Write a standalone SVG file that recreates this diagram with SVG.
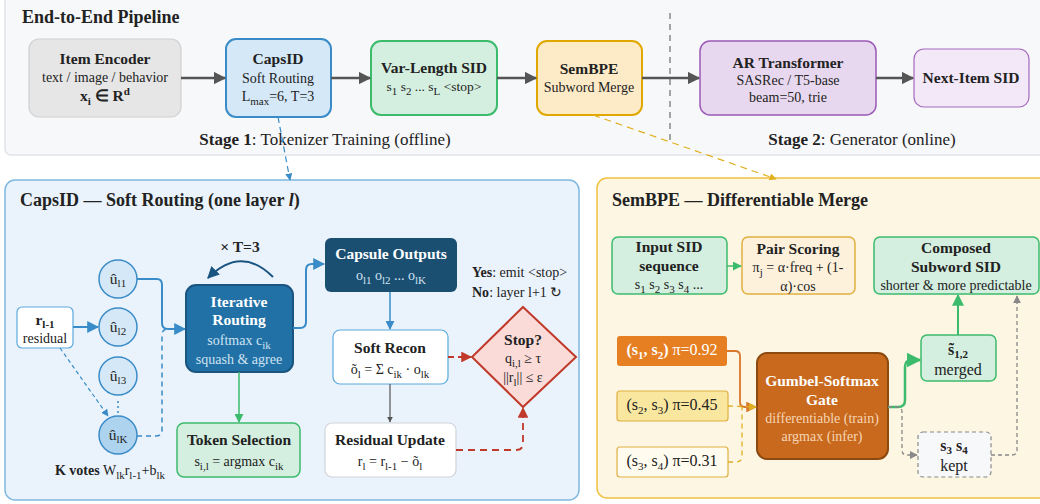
<svg xmlns="http://www.w3.org/2000/svg" width="1040" height="504" viewBox="0 0 1040 504">
<style>
text{font-family:"Liberation Serif","Times New Roman",serif;fill:#222;}
.b{font-weight:bold;}
.t15{font-size:15.5px;}
.t13{font-size:14px;}
.t12{font-size:13.5px;}
.w{fill:#fff;}
.lb{fill:#cfe3f3;}
.lo{fill:#f6d5b5;}
.s{font-size:11px;}
.c{text-anchor:middle;}
</style>
<defs>
<marker id="mg" viewBox="0 0 10 10" refX="9" refY="5" markerWidth="5" markerHeight="5" orient="auto"><path d="M0,0L10,5L0,10z" fill="#555"/></marker>
<marker id="mb" viewBox="0 0 10 10" refX="9" refY="5" markerWidth="6" markerHeight="6" orient="auto"><path d="M0,0L10,5L0,10z" fill="#3a8cc8"/></marker>
<marker id="mdb" viewBox="0 0 10 10" refX="9" refY="5" markerWidth="6" markerHeight="6" orient="auto"><path d="M0,0L10,5L0,10z" fill="#1a5480"/></marker>
<marker id="mgr" viewBox="0 0 10 10" refX="9" refY="5" markerWidth="6" markerHeight="6" orient="auto"><path d="M0,0L10,5L0,10z" fill="#3dbb6c"/></marker>
<marker id="mr" viewBox="0 0 10 10" refX="9" refY="5" markerWidth="6" markerHeight="6" orient="auto"><path d="M0,0L10,5L0,10z" fill="#c0392b"/></marker>
<marker id="mo" viewBox="0 0 10 10" refX="9" refY="5" markerWidth="6" markerHeight="6" orient="auto"><path d="M0,0L10,5L0,10z" fill="#d9782d"/></marker>
<marker id="my" viewBox="0 0 10 10" refX="9" refY="5" markerWidth="6" markerHeight="6" orient="auto"><path d="M0,0L10,5L0,10z" fill="#e0b020"/></marker>
<marker id="mgy" viewBox="0 0 10 10" refX="9" refY="5" markerWidth="6" markerHeight="6" orient="auto"><path d="M0,0L10,5L0,10z" fill="#888"/></marker>
</defs>

<!-- panels -->
<rect x="5" y="-6" width="1045" height="161" rx="6" fill="#f7f8fa" stroke="#e2e4e8" stroke-width="1.5"/>
<text x="22" y="23" class="b" font-size="18">End-to-End Pipeline</text>
<line x1="670" y1="13" x2="670" y2="140" stroke="#888" stroke-width="1.5" stroke-dasharray="6,5"/>
<text x="325" y="145" class="c" font-size="17"><tspan class="b">Stage 1</tspan>: Tokenizer Training (offline)</text>
<text x="862" y="145" class="c" font-size="17"><tspan class="b">Stage 2</tspan>: Generator (online)</text>

<rect x="5" y="180" width="574" height="320" rx="10" fill="#eaf3fb" stroke="#7fb8e0" stroke-width="1.5"/>
<text x="20" y="206" class="b" font-size="18">CapsID — Soft Routing (one layer <tspan font-style="italic">l</tspan>)</text>

<rect x="597" y="178" width="460" height="320" rx="10" fill="#fdf6e3" stroke="#f0c040" stroke-width="1.5"/>
<text x="612" y="206" class="b" font-size="18">SemBPE — Differentiable Merge</text>

<!-- top nodes -->
<g id="item-encoder">
<rect x="29" y="39" width="152" height="78" rx="10" fill="#e6e6e6" stroke="#d0d0d0" stroke-width="1.2"/>
<text x="105" y="64" class="c b t15">Item Encoder</text>
<text x="105" y="82" class="c t13">text / image / behavior</text>
<text x="105" y="101" class="c b t15">x<tspan class="s" baseline-shift="-4">i</tspan> ∈ R<tspan class="s" baseline-shift="6">d</tspan></text>
</g>
<g id="capsid">
<rect x="226" y="39" width="105" height="78" rx="10" fill="#d5e8f7" stroke="#3a8cc8" stroke-width="2"/>
<text x="278" y="64" class="c b t15">CapsID</text>
<text x="278" y="83" class="c t13">Soft Routing</text>
<text x="278" y="101" class="c t13">L<tspan class="s" baseline-shift="-4">max</tspan>=6, T=3</text>
</g>
<g id="varlen">
<rect x="371" y="41" width="126" height="74" rx="10" fill="#d4efdf" stroke="#3dbb6c" stroke-width="2"/>
<text x="434" y="73" class="c b t15">Var-Length SID</text>
<text x="434" y="91" class="c t12">s<tspan class="s" baseline-shift="-3.5">1</tspan> s<tspan class="s" baseline-shift="-3.5">2</tspan> ... s<tspan class="s" baseline-shift="-3.5">L</tspan> &lt;stop&gt;</text>
</g>
<g id="sembpe">
<rect x="537" y="41" width="105" height="74" rx="10" fill="#fdebc8" stroke="#e0a800" stroke-width="2"/>
<text x="589" y="74" class="c b t15">SemBPE</text>
<text x="589" y="92" class="c t13">Subword Merge</text>
</g>
<g id="ar-transformer">
<rect x="700" y="41" width="176" height="74" rx="10" fill="#e8d8ef" stroke="#9b59b6" stroke-width="1.5"/>
<text x="788" y="68" class="c b t15">AR Transformer</text>
<text x="788" y="85" class="c t13">SASRec / T5-base</text>
<text x="788" y="102" class="c t13">beam=50, trie</text>
</g>
<g id="next-item">
<rect x="914" y="49" width="115" height="58" rx="10" fill="#f3e8f8" stroke="#a569bd" stroke-width="1.2"/>
<text x="971" y="83" class="c b t15">Next-Item SID</text>
</g>

<!-- capsid detail nodes -->
<g id="residual-in">
<rect x="17" y="307" width="56" height="41" rx="5" fill="#fff" stroke="#5aa9e0" stroke-width="1.2"/>
<text x="45" y="325" class="c b t15">r<tspan class="s" baseline-shift="-3">l-1</tspan></text>
<text x="45" y="343" class="c t13">residual</text>
</g>
<g id="u1"><circle cx="118" cy="279" r="19" fill="#d5e8f7" stroke="#3a8cc8" stroke-width="1.5"/><text x="118" y="284" class="c t15">û<tspan class="s" baseline-shift="-3" font-size="12">l1</tspan></text></g>
<g id="u2"><circle cx="118" cy="327" r="19" fill="#d5e8f7" stroke="#3a8cc8" stroke-width="1.5"/><text x="118" y="332" class="c t15">û<tspan class="s" baseline-shift="-3" font-size="12">l2</tspan></text></g>
<g id="u3"><circle cx="118" cy="376" r="19" fill="#d5e8f7" stroke="#3a8cc8" stroke-width="1.5"/><text x="118" y="381" class="c t15">û<tspan class="s" baseline-shift="-3" font-size="12">l3</tspan></text></g>
<g id="uK"><circle cx="118" cy="435" r="19" fill="#aed3ef" stroke="#3a8cc8" stroke-width="1.5"/><text x="118" y="440" class="c t15">û<tspan class="s" baseline-shift="-3" font-size="12">lK</tspan></text></g>
<line x1="118" y1="401" x2="118" y2="413" stroke="#3a8cc8" stroke-width="1.5" stroke-dasharray="2,3"/>
<text x="110" y="475" class="c t13"><tspan class="b">K votes</tspan> W<tspan class="s" baseline-shift="-3.5">lk</tspan>r<tspan class="s" baseline-shift="-3.5">l-1</tspan>+b<tspan class="s" baseline-shift="-3.5">lk</tspan></text>

<g id="iterative-routing">
<rect x="186" y="285" width="107" height="87" rx="10" fill="#2271a6" stroke="#1a5480" stroke-width="2"/>
<text x="239" y="307" class="c b t15 w" font-size="16">Iterative</text>
<text x="239" y="325" class="c b t15 w" font-size="16">Routing</text>
<text x="239" y="345" class="c t13 lb">softmax c<tspan class="s" baseline-shift="-3.5">ik</tspan></text>
<text x="239" y="364" class="c t13 lb">squash &amp; agree</text>
</g>
<text x="240" y="252" class="c b t15">× T=3</text>

<g id="capsule-outputs">
<rect x="325" y="238" width="132" height="54" rx="6" fill="#1b4f72"/>
<text x="391" y="259" class="c b t15 w">Capsule Outputs</text>
<text x="391" y="280" class="c t13 lb">o<tspan class="s" baseline-shift="-3.5">l1</tspan> o<tspan class="s" baseline-shift="-3.5">l2</tspan> ... o<tspan class="s" baseline-shift="-3.5">lK</tspan></text>
</g>
<g id="soft-recon">
<rect x="333" y="330" width="115" height="54" rx="7" fill="#fff" stroke="#5aa9e0" stroke-width="1.2"/>
<text x="390" y="353" class="c b t15">Soft Recon</text>
<text x="390" y="374" class="c t13">õ<tspan class="s" baseline-shift="-3.5">l</tspan> = Σ c<tspan class="s" baseline-shift="-3.5">ik</tspan> · o<tspan class="s" baseline-shift="-3.5">lk</tspan></text>
</g>
<g id="residual-update">
<rect x="325" y="423" width="131" height="54" rx="7" fill="#fff" stroke="#d0d4da" stroke-width="1.2"/>
<text x="390" y="445" class="c b t15">Residual Update</text>
<text x="390" y="466" class="c t13">r<tspan class="s" baseline-shift="-3.5">l</tspan> = r<tspan class="s" baseline-shift="-3.5">l-1</tspan> − õ<tspan class="s" baseline-shift="-3.5">l</tspan></text>
</g>
<g id="token-selection">
<rect x="177" y="423" width="123" height="54" rx="7" fill="#d4efdf" stroke="#3dbb6c" stroke-width="1.5"/>
<text x="239" y="445" class="c b t15">Token Selection</text>
<text x="239" y="466" class="c t13">s<tspan class="s" baseline-shift="-3.5">i,l</tspan> = argmax c<tspan class="s" baseline-shift="-3.5">ik</tspan></text>
</g>
<g id="stop">
<polygon points="523,307 576,357 523,407 472,357" fill="#fadbd8" stroke="#c0392b" stroke-width="2"/>
<text x="523" y="345" class="c b t15">Stop?</text>
<text x="523" y="363" class="c t13">q<tspan class="s" baseline-shift="-3.5">i,l</tspan> ≥ τ</text>
<text x="523" y="382" class="c t13">||r<tspan class="s" baseline-shift="-3.5">l</tspan>|| ≤ ε</text>
</g>
<text x="472" y="277" class="t13"><tspan class="b">Yes</tspan>: emit &lt;stop&gt;</text>
<text x="472" y="297" class="t13"><tspan class="b">No</tspan>: layer l+1 ↻</text>

<!-- sembpe detail nodes -->
<g id="input-sid">
<rect x="612" y="237" width="115" height="57" rx="6" fill="#d4efdf" stroke="#3dbb6c" stroke-width="1.5"/>
<text x="669" y="252" class="c b t15">Input SID</text>
<text x="669" y="271" class="c b t15">sequence</text>
<text x="669" y="289" class="c t13">s<tspan class="s" baseline-shift="-3.5">1</tspan> s<tspan class="s" baseline-shift="-3.5">2</tspan> s<tspan class="s" baseline-shift="-3.5">3</tspan> s<tspan class="s" baseline-shift="-3.5">4</tspan> ...</text>
</g>
<g id="pair-scoring">
<rect x="742" y="237" width="113" height="57" rx="6" fill="#fdf1dc" stroke="#e0b040" stroke-width="1.5"/>
<text x="798" y="254" class="c b t15">Pair Scoring</text>
<text x="798" y="272" class="c t13">π<tspan class="s" baseline-shift="-3.5">j</tspan> = α·freq + (1-</text>
<text x="798" y="291" class="c t13">α)·cos</text>
</g>
<g id="composed">
<rect x="874" y="237" width="165" height="57" rx="6" fill="#d4efdf" stroke="#3dbb6c" stroke-width="1.5"/>
<text x="956" y="253" class="c b t15">Composed</text>
<text x="956" y="272" class="c b t15">Subword SID</text>
<text x="956" y="290" class="c t13">shorter &amp; more predictable</text>
</g>
<g id="pair12">
<rect x="617" y="336" width="110" height="30" rx="3" fill="#e67e22"/>
<text x="672" y="355" class="c w" font-size="16"><tspan class="b">(s<tspan class="s" baseline-shift="-3.5" font-size="12">1</tspan>, s<tspan class="s" baseline-shift="-3.5" font-size="12">2</tspan>)</tspan> π=0.92</text>
</g>
<g id="pair23">
<rect x="617" y="391" width="111" height="30" rx="3" fill="#f9e79f" stroke="#e0b040" stroke-width="1.2"/>
<text x="672" y="410" class="c" font-size="16">(s<tspan class="s" baseline-shift="-3.5" font-size="12">2</tspan>, s<tspan class="s" baseline-shift="-3.5" font-size="12">3</tspan>) π=0.45</text>
</g>
<g id="pair34">
<rect x="617" y="447" width="111" height="30" rx="3" fill="#fffbee" stroke="#e0b040" stroke-width="1.2"/>
<text x="672" y="466" class="c" font-size="16">(s<tspan class="s" baseline-shift="-3.5" font-size="12">3</tspan>, s<tspan class="s" baseline-shift="-3.5" font-size="12">4</tspan>) π=0.31</text>
</g>
<g id="gumbel">
<rect x="757" y="353" width="131" height="106" rx="10" fill="#c8691d" stroke="#8a4a10" stroke-width="2"/>
<text x="822" y="386" class="c b t15 w">Gumbel-Softmax</text>
<text x="822" y="405" class="c b t15 w">Gate</text>
<text x="822" y="423" class="c t13 lo">differentiable (train)</text>
<text x="822" y="441" class="c t13 lo">argmax (infer)</text>
</g>
<g id="merged">
<rect x="921" y="335" width="75" height="46" rx="6" fill="#d4efdf" stroke="#3dbb6c" stroke-width="1.5"/>
<text x="958" y="355" class="c b" font-size="16">s̃<tspan class="s" baseline-shift="-3" font-size="12">1,2</tspan></text>
<text x="958" y="375" class="c" font-size="16">merged</text>
</g>
<g id="kept">
<rect x="918" y="432" width="73" height="45" rx="5" fill="#f7f8fa" stroke="#888" stroke-width="1.2" stroke-dasharray="4,3"/>
<text x="954" y="451" class="c b" font-size="16">s<tspan class="s" baseline-shift="-3" font-size="12">3</tspan> s<tspan class="s" baseline-shift="-3" font-size="12">4</tspan></text>
<text x="954" y="471" class="c" font-size="16">kept</text>
</g>

<!-- connectors -->
<g id="connectors" fill="none">
<line x1="181" y1="78" x2="225" y2="78" stroke="#555" stroke-width="2.5" marker-end="url(#mg)"/>
<line x1="331" y1="78" x2="370" y2="78" stroke="#555" stroke-width="2.5" marker-end="url(#mg)"/>
<line x1="497" y1="78" x2="536" y2="78" stroke="#555" stroke-width="2.5" marker-end="url(#mg)"/>
<line x1="642" y1="78" x2="699" y2="78" stroke="#555" stroke-width="2.5" marker-end="url(#mg)"/>
<line x1="876" y1="78" x2="913" y2="78" stroke="#555" stroke-width="2.5" marker-end="url(#mg)"/>
<line x1="278" y1="117" x2="290" y2="180" stroke="#3a8cc8" stroke-width="1.2" stroke-dasharray="6,4" marker-end="url(#mb)"/>
<line x1="593" y1="115" x2="776" y2="179" stroke="#e0b020" stroke-width="1.2" stroke-dasharray="7,5" marker-end="url(#my)"/>

<line x1="73" y1="327" x2="98" y2="327" stroke="#3a8cc8" stroke-width="2" marker-end="url(#mb)"/>
<line x1="60" y1="348" x2="108" y2="416" stroke="#3a8cc8" stroke-width="1.2" stroke-dasharray="4,3" marker-end="url(#mb)"/>
<path d="M137,279 H157 Q162,279 162,285 V323 Q162,329 168,329 H185" stroke="#3a8cc8" stroke-width="2" marker-end="url(#mb)"/>
<path d="M137,436 H156 Q162,436 162,430 V335 Q162,329 168,329" stroke="#3a8cc8" stroke-width="1.5" stroke-dasharray="5,4"/>
<path d="M273,277 Q241,245 208,278" stroke="#1a5480" stroke-width="2" marker-end="url(#mdb)"/>
<path d="M293,328 H300 Q306,328 306,322 V270 Q306,264 312,264 H324" stroke="#3a8cc8" stroke-width="2" marker-end="url(#mb)"/>
<line x1="390" y1="292" x2="390" y2="329" stroke="#3a8cc8" stroke-width="1.5" marker-end="url(#mb)"/>
<line x1="390" y1="384" x2="390" y2="422" stroke="#555" stroke-width="1.2" marker-end="url(#mg)"/>
<line x1="239" y1="372" x2="239" y2="422" stroke="#3dbb6c" stroke-width="1.5" marker-end="url(#mgr)"/>
<line x1="448" y1="357" x2="471" y2="357" stroke="#c0392b" stroke-width="1.8" stroke-dasharray="6,4" marker-end="url(#mr)"/>
<path d="M456,450 H516 Q523,450 523,443 V408" stroke="#c0392b" stroke-width="1.8" stroke-dasharray="7,5" marker-end="url(#mr)"/>

<line x1="727" y1="266" x2="741" y2="266" stroke="#3dbb6c" stroke-width="1.5" marker-end="url(#mgr)"/>
<path d="M727,351 H735 Q740,351 740,356 V402 Q740,407 745,407 H756" stroke="#d9782d" stroke-width="1.8" marker-end="url(#mo)"/>
<line x1="728" y1="406" x2="756" y2="407" stroke="#e0b020" stroke-width="1.3" stroke-dasharray="5,4" marker-end="url(#my)"/>
<path d="M728,462 H736 Q742,462 742,456 V407" stroke="#e0b020" stroke-width="1.3" stroke-dasharray="5,4"/>
<path d="M888,407 H898 Q905,407 905,400 V367 Q905,360 912,360 H920" stroke="#3dbb6c" stroke-width="2.5" marker-end="url(#mgr)"/>
<line x1="958" y1="335" x2="958" y2="295" stroke="#3dbb6c" stroke-width="2" marker-end="url(#mgr)"/>
<path d="M888,407 H897 Q902,407 902,412 V450 Q902,455 907,455 H917" stroke="#888" stroke-width="1.3" stroke-dasharray="4,3" marker-end="url(#mgy)"/>
<path d="M991,455 H1012 Q1017,455 1017,450 V296" stroke="#888" stroke-width="1.3" stroke-dasharray="4,3" marker-end="url(#mgy)"/>
</g>
</svg>
